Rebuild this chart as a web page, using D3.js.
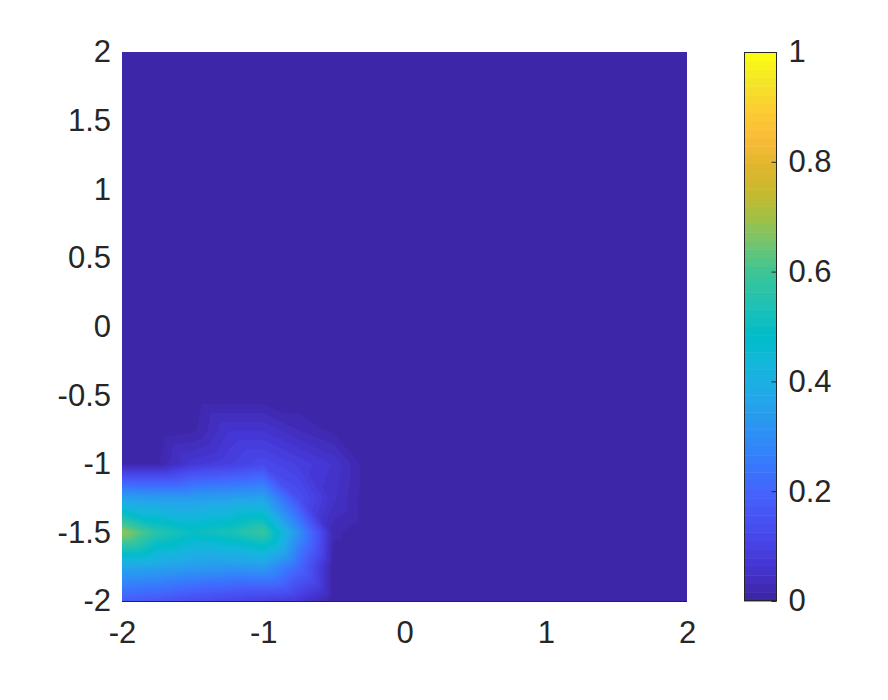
<!DOCTYPE html>
<html><head><meta charset="utf-8">
<script src="https://cdn.jsdelivr.net/npm/d3@7"></script>
<style>
body{margin:0;background:#fff}
svg{display:block}
text{font-family:"Liberation Sans",Arial,Helvetica,sans-serif;fill:#262626}
</style></head>
<body><svg id="chart" width="888" height="700"></svg>
<script>
// ---- data ----
const xGrid = [-2,-1.75,-1.5,-1.25,-1,-0.75,-0.5,-0.25,0,0.25,0.5,0.75,1,1.25,1.5,1.75,2];
const yGrid = [-2,-1.75,-1.5,-1.25,-1,-0.75,-0.5,-0.25,0,0.25,0.5,0.75,1,1.25,1.5,1.75,2];
// surface values, one row per yGrid entry (row 0 is y = -2), columns follow xGrid
const zRow_m200 = [0.18,0.16,0.13,0.11,0.09,0.07,0,0,0,0,0,0,0,0,0,0,0];
const zRow_m175 = [0.37,0.36,0.34,0.33,0.34,0.21,0,0,0,0,0,0,0,0,0,0,0];
const zRow_m150 = [0.69,0.56,0.50,0.53,0.59,0.31,0.02,0,0,0,0,0,0,0,0,0,0];
const zRow_m125 = [0.35,0.34,0.34,0.35,0.36,0.14,0.05,0,0,0,0,0,0,0,0,0,0];
const zRow_m100 = [0.012,0.012,0.07,0.09,0.12,0.09,0.06,0,0,0,0,0,0,0,0,0,0];
const zRow_m075 = [0,0,0.01,0.06,0.06,0.03,0.01,0,0,0,0,0,0,0,0,0,0];
const zRow_zero = [0,0,0,0,0,0,0,0,0,0,0,0,0,0,0,0,0];
const zRows = [zRow_m200,zRow_m175,zRow_m150,zRow_m125,zRow_m100,zRow_m075,
  zRow_zero,zRow_zero,zRow_zero,zRow_zero,zRow_zero,zRow_zero,zRow_zero,zRow_zero,zRow_zero,zRow_zero,zRow_zero];

const xTicks = [-2,-1,0,1,2];
const yTicks = [-2,-1.5,-1,-0.5,0,0.5,1,1.5,2];
const cbTicks = [0,0.2,0.4,0.6,0.8,1];

// parula colormap anchors
const parulaStops = [0,0.063,0.125,0.19,0.25,0.30,0.375,0.44,0.48,0.54,0.60,0.66,0.70,0.75,0.80,0.85,0.90,0.95,1];
const parulaRGB = ["#3e26a8","#4537d5","#484cf0","#4562fc","#377bfd","#2e8ff4","#21aae8","#11b8d8","#00bcca",
  "#1ec1b4","#3cc596","#78c46a","#a0c046","#c8b92d","#e1b62d","#fabb39","#fccd32","#f5e428","#f9fb15"];

// ---- layout ----
const svg = d3.select("#chart");
const plot = {x0:122, x1:687, y0:52, y1:601};
const cb = {x0:744, x1:777, y0:52, y1:601};
const FS = 31;
const fmt = d => String(d);

const xs = d3.scaleLinear().domain([-2,2]).range([plot.x0, plot.x1]);
const ys = d3.scaleLinear().domain([-2,2]).range([plot.y1, plot.y0]);
const cs = d3.scaleLinear().domain([0,1]).range([cb.y1, cb.y0]);

const parulaInterp = d3.scaleLinear().domain(parulaStops).range(parulaRGB).interpolate(d3.interpolateRgb);
const NC = 64;
const cmap = d3.range(NC).map(k => parulaInterp(k/(NC-1)));

// piecewise-linear (triangulated) surface evaluation
const h = 0.25;
function zAt(x, y){
  let i = Math.min(Math.floor((x - xGrid[0]) / h), xGrid.length-2);
  let j = Math.min(Math.floor((y - yGrid[0]) / h), yGrid.length-2);
  i = Math.max(0,i); j = Math.max(0,j);
  const u = (x - xGrid[i]) / h, v = (y - yGrid[j]) / h;
  const A = zRows[j][i], B = zRows[j][i+1], C = zRows[j+1][i], D = zRows[j+1][i+1];
  if (u + v <= 1) return A + u*(B-A) + v*(C-A);
  return D + (1-u)*(C-D) + (1-v)*(B-D);
}

// sample surface for banded (64-colour) shading
const N = 320, step = 4 / N;
const vals = new Array(N*N);
for (let r = 0; r < N; r++) {
  const y = 2 - (r + 0.5) * step;
  for (let c = 0; c < N; c++) {
    const x = -2 + (c + 0.5) * step;
    vals[r*N + c] = zAt(x, y);
  }
}
const thresholds = d3.range(1, NC).map(k => k / NC);
const bands = d3.contours().size([N, N]).thresholds(thresholds)(vals);
const proj = d3.geoTransform({point(px, py){ this.stream.point(xs(-2 + px*step), ys(2 - py*step)); }});
const path = d3.geoPath(proj);

const g = svg.append("g");
g.append("rect").attr("x", plot.x0).attr("y", plot.y0)
  .attr("width", plot.x1 - plot.x0).attr("height", plot.y1 - plot.y0)
  .attr("fill", cmap[0]);
g.selectAll("path.band").data(bands).join("path")
  .attr("class","band")
  .attr("d", d => path(d))
  .attr("fill", (d, k) => cmap[k+1])
  .attr("stroke", "none");

// bottom axis line
svg.append("line").attr("x1", plot.x0).attr("x2", plot.x1)
  .attr("y1", plot.y1 + 0.5).attr("y2", plot.y1 + 0.5)
  .attr("stroke", "#262626").attr("stroke-width", 1.2);

// x axis labels
const xAxis = svg.append("g").attr("transform", `translate(0,${plot.y1})`)
  .call(d3.axisBottom(xs).tickValues(xTicks).tickSize(0).tickPadding(20).tickFormat(fmt));
xAxis.select(".domain").remove();
xAxis.selectAll("text").attr("font-size", FS).style("font-family", "'Liberation Sans',Arial,sans-serif").attr("fill","#262626");

// y axis labels
const yAxis = svg.append("g").attr("transform", `translate(${plot.x0},0)`)
  .call(d3.axisLeft(ys).tickValues(yTicks).tickSize(0).tickPadding(11).tickFormat(fmt));
yAxis.select(".domain").remove();
yAxis.selectAll("text").attr("font-size", FS).style("font-family", "'Liberation Sans',Arial,sans-serif").attr("fill","#262626");

// colorbar
const cbg = svg.append("g");
cbg.selectAll("rect.cb").data(d3.range(NC)).join("rect")
  .attr("class","cb")
  .attr("x", cb.x0).attr("width", cb.x1 - cb.x0)
  .attr("y", k => cs((k+1)/NC)).attr("height", k => cs(k/NC) - cs((k+1)/NC) + 0.5)
  .attr("fill", k => cmap[k]);
cbg.append("rect").attr("x", cb.x0 + 0.5).attr("y", cb.y0 + 0.5)
  .attr("width", cb.x1 - cb.x0 - 1).attr("height", cb.y1 - cb.y0 - 1)
  .attr("fill","none").attr("stroke","#262626").attr("stroke-width",1);
const cbAxis = cbg.append("g").attr("transform", `translate(${cb.x1 - 0.5},0)`)
  .call(d3.axisRight(cs).tickValues(cbTicks).tickSizeInner(-5).tickSizeOuter(0).tickPadding(12).tickFormat(fmt));
cbAxis.select(".domain").remove();
cbAxis.selectAll("line").attr("stroke","#262626");
cbAxis.selectAll("text").attr("font-size", FS).style("font-family", "'Liberation Sans',Arial,sans-serif").attr("fill","#262626");
</script></body></html>
